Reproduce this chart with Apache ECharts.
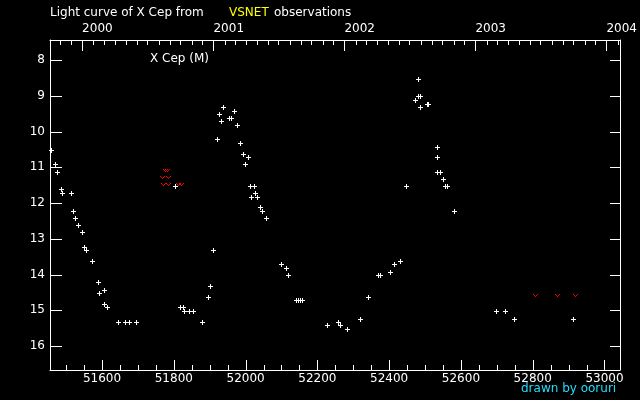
<!DOCTYPE html>
<html><head><meta charset="utf-8">
<script src="https://cdn.jsdelivr.net/npm/echarts@6/dist/echarts.min.js"></script>
<style>html,body{margin:0;padding:0;background:#000}#c{width:640px;height:400px}</style>
</head><body><div id="c"></div>
<script>
// Observations (JD - 2400000, visual magnitude)
const obsJD = [51457,51469,51475,51486,51489,51514,51519,51525,51533,51544,51550,51555,51572,51589,51592,51606,51606,51614,51645,51664,51675,51695,
  51803,51817,51825,51828,51842,51853,51878,51895,51901,51909,51920,51925,51931,51937,51953,51959,51967,51976,51984,51992,51998,52006,
  52012,52015,52023,52026,52031,52040,52045,52056,52098,52112,52118,52140,52146,52151,52157,52226,52257,52262,52282,52318,52340,52368,
  52374,52402,52413,52429,52446,52471,52480,52480,52485,52485,52505,52507,52532,52532,52532,52543,52549,52555,52560,52582,52699,52722,52749,52911];
const obsMag = [10.52,10.92,11.14,11.62,11.73,11.73,12.23,12.43,12.62,12.82,13.24,13.32,13.63,14.22,14.53,14.44,14.83,14.92,15.34,15.34,15.34,15.34,
  11.53,14.92,14.92,15.03,15.03,15.03,15.34,14.64,14.33,13.32,10.22,9.52,9.71,9.32,9.63,9.63,9.43,9.83,10.33,10.64,10.92,10.72,
  11.53,11.84,11.53,11.73,11.84,12.12,12.23,12.43,13.71,13.83,14.02,14.72,14.72,14.72,14.72,15.42,15.34,15.42,15.53,15.23,14.64,14.02,
  14.02,13.94,13.71,13.63,11.53,9.13,8.54,9.02,9.02,9.32,9.24,9.24,10.44,10.72,11.14,11.14,11.34,11.53,11.53,12.23,15.02,15.02,15.23,15.23];
// Fainter-than (upper limit) observations
const limJD = [51774.5,51781.5,51767.5,51784,51770,51785,51811,51820,52805,52869,52919];
const limMag = [11.08,11.09,11.27,11.27,11.47,11.47,11.47,11.47,14.57,14.57,14.57];
// Tick values and labels
const jdTicks = [51600,51800,52000,52200,52400,52600,52800,53000];
const jdMinorTicks = [51500,51550,51650,51700,51750,51850,51900,51950,52050,52100,52150,52250,52300,52350,52450,52500,52550,52650,52700,52750,52850,52900,52950];
const magTicks = [8,9,10,11,12,13,14,15,16];
const yearLabels = ['2000','2001','2002','2003','2004'];

const JD_MIN = 51455, JD_MAX = 53043, MAG_MIN = 7.44, MAG_MAX = 16.67;
const toJD = (y, m) => Date.UTC(y, m, 1) / 864e5 + 40587.5;   // JD - 2400000 at 0h UT
const yearJD = yearLabels.map(y => toJD(+y, 0));
const monthJD = [];
for (let y = 1999; y <= 2004; y++) for (let m = 0; m < 12; m++) {
  const v = toJD(y, m);
  if (v > JD_MIN && v < JD_MAX) monthJD.push(v);
}
const FONT = 'DejaVu Sans';
const white = '#ffffff';
const line = { show: true, onZero: false, lineStyle: { color: white, width: 1 } };
const noSplit = { show: false };
const noTick = { show: false };
const baseX = { type: 'value', min: JD_MIN, max: JD_MAX, splitLine: noSplit, axisLine: line, axisTick: noTick };

const plusItem = function (params, api) {
  const p = api.coord([api.value(0), api.value(1)]);
  const cx = Math.round(p[0]), cy = Math.round(p[1]);
  return { type: 'group', children: [
    { type: 'rect', shape: { x: cx - 2, y: cy, width: 5, height: 1 }, style: { fill: white } },
    { type: 'rect', shape: { x: cx, y: cy - 2, width: 1, height: 5 }, style: { fill: white } }
  ] };
};
const vItem = function (params, api) {
  const p = api.coord([api.value(0), api.value(1)]);
  const cx = Math.round(p[0]), cy = Math.round(p[1]);
  const px = [[-2, -1], [2, -1], [-1, 0], [1, 0], [0, 1]];
  return { type: 'group', children: px.map(d => ({ type: 'rect',
    shape: { x: cx + d[0], y: cy + d[1], width: 1, height: 1 }, style: { fill: '#ff0000' } })) };
};
const textEls = [
  { type: 'text', left: 50, top: 7, style: { text: 'Light curve of X Cep from', fill: white, font: '12px ' + FONT } },
  { type: 'text', left: 229, top: 7, style: { text: 'VSNET', fill: '#ffff00', font: '12px ' + FONT } },
  { type: 'text', left: 274, top: 7, style: { text: 'observations', fill: white, font: '12px ' + FONT } },
  { type: 'text', left: 150, top: 53, style: { text: 'X Cep (M)', fill: white, font: '12px ' + FONT } },
  { type: 'text', left: 521, top: 383, style: { text: 'drawn by ooruri', fill: '#22ddff', font: '12px ' + FONT } }
];
const chart = echarts.init(document.getElementById('c'));
chart.setOption({
  animation: false,
  backgroundColor: '#000',
  grid: { left: 50, right: 19, top: 40, bottom: 30 },
  xAxis: [
    Object.assign({}, baseX, { position: 'bottom',
      axisLabel: { show: true, customValues: jdTicks, color: white, fontFamily: FONT, fontSize: 12, margin: 3, formatter: v => String(v) } }),
    Object.assign({}, baseX, { position: 'top',
      axisLabel: { show: true, customValues: yearJD, align: 'left', color: white, fontFamily: FONT, fontSize: 12, margin: 5,
        formatter: v => { const i = yearJD.findIndex(j => Math.abs(j - v) < 0.01); return i >= 0 ? yearLabels[i] : ''; } } })
  ],
  yAxis: [
    { type: 'value', position: 'left', inverse: true, min: MAG_MIN, max: MAG_MAX, splitLine: noSplit, axisLine: line, axisTick: noTick,
      axisLabel: { show: true, customValues: magTicks, color: white, fontFamily: FONT, fontSize: 12, margin: 5 } },
    { type: 'value', position: 'right', inverse: true, min: MAG_MIN, max: MAG_MAX, splitLine: noSplit, axisLine: line, axisTick: noTick,
      axisLabel: { show: false } }
  ],
  series: [
    { type: 'custom', coordinateSystem: 'cartesian2d', xAxisIndex: 0, yAxisIndex: 0, silent: true,
      renderItem: plusItem, data: obsJD.map((x, i) => [x, obsMag[i]]) },
    { type: 'custom', coordinateSystem: 'cartesian2d', xAxisIndex: 0, yAxisIndex: 0, silent: true,
      renderItem: vItem, data: limJD.map((x, i) => [x, limMag[i]]) }
  ],
  graphic: textEls
});

// Tick marks: positions converted through the chart's own axes
const ticks = [];
const xEdge = [Math.round(chart.convertToPixel({ xAxisIndex: 0 }, JD_MIN)), Math.round(chart.convertToPixel({ xAxisIndex: 0 }, JD_MAX))];
const yEdge = [Math.round(chart.convertToPixel({ yAxisIndex: 0 }, MAG_MIN)), Math.round(chart.convertToPixel({ yAxisIndex: 0 }, MAG_MAX))];
function addX(values, side, len) {
  values.forEach(v => {
    const px = Math.round(chart.convertToPixel({ xAxisIndex: 0 }, v));
    const y0 = side === 'top' ? yEdge[0] + 1 : yEdge[1] - len;
    ticks.push({ type: 'rect', silent: true, z: 50, shape: { x: px, y: y0, width: 1, height: len }, style: { fill: white } });
  });
}
function addY(values, side, len) {
  values.forEach(v => {
    const py = Math.round(chart.convertToPixel({ yAxisIndex: 0 }, v));
    const x0 = side === 'left' ? xEdge[0] + 1 : xEdge[1] - len;
    ticks.push({ type: 'rect', silent: true, z: 50, shape: { x: x0, y: py, width: len, height: 1 }, style: { fill: white } });
  });
}
addX(jdTicks, 'bottom', 10);
addX(jdMinorTicks, 'bottom', 5);
addX(yearJD, 'top', 10);
addX(monthJD, 'top', 4);
addY(magTicks, 'left', 11);
addY(magTicks, 'right', 10);
chart.setOption({ graphic: textEls.concat(ticks) });
</script></body></html>
